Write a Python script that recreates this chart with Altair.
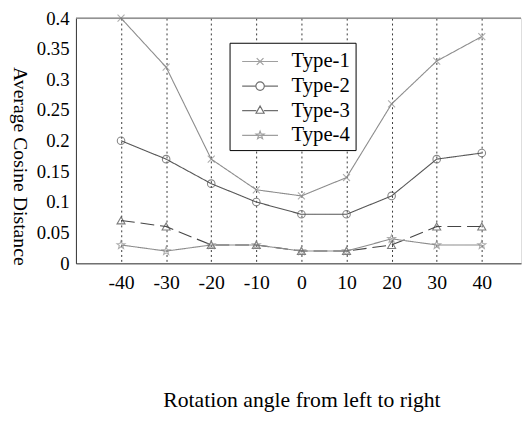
import math
import altair as alt
import pandas as pd

angles = [-40, -30, -20, -10, 0, 10, 20, 30, 40]
series_names = ["Type-1", "Type-2", "Type-3", "Type-4"]
type1 = [0.40, 0.32, 0.17, 0.12, 0.11, 0.14, 0.26, 0.33, 0.37]
type2 = [0.20, 0.17, 0.13, 0.10, 0.08, 0.08, 0.11, 0.17, 0.18]
type3 = [0.07, 0.06, 0.03, 0.03, 0.02, 0.02, 0.03, 0.06, 0.06]
type4 = [0.03, 0.02, 0.03, 0.03, 0.02, 0.02, 0.04, 0.03, 0.03]
x_ticks = [-40, -30, -20, -10, 0, 10, 20, 30, 40]
y_ticks = [0, 0.05, 0.1, 0.15, 0.2, 0.25, 0.3, 0.35, 0.4]
y_top = [0.4]

rows = []
for name, vals in zip(series_names, [type1, type2, type3, type4]):
    for a, v in zip(angles, vals):
        rows.append({"angle": a, "value": v, "series": name})
df = pd.DataFrame(rows)

colors = ["#8c8c8c", "#555555", "#454545", "#8c8c8c"]
FONT = "Liberation Serif"


def star_path(r_out, r_in, cx=0.0):
    pts = []
    for i in range(10):
        r = r_out if i % 2 == 0 else r_in
        ang = -math.pi / 2 + i * math.pi / 5
        pts.append((cx + r * math.cos(ang), r * math.sin(ang)))
    return "M" + "L".join(f"{x:.3f},{y:.3f}" for x, y in pts) + "Z"


# marker shapes for plotted points
x_path = "M-1,-1L1,1M-1,1L1,-1"
point_shapes = [x_path, "circle", "triangle-up", star_path(1.0, 0.42)]
point_sizes = [50, 75, 90, 80]

# legend symbols: short line with marker in the middle
L = 1.4
m = 0.33
leg_x = f"M-{L},0L{L},0M-{m*0.8},-{m*0.8}L{m*0.8},{m*0.8}M-{m*0.8},{m*0.8}L{m*0.8},-{m*0.8}"
leg_o = (f"M-{L},0L-{m},0M{m},0L{L},0M{m},0A{m},{m} 0 1,1 -{m},0A{m},{m} 0 1,1 {m},0")
leg_t = f"M-{L},0L-{m*0.9},0M{m*0.9},0L{L},0M0,-{m*1.1}L{m*0.95},{m*0.6}L-{m*0.95},{m*0.6}Z"
leg_s = f"M-{L},0L{L},0" + star_path(m, m * 0.42)
legend_shapes = [leg_x, leg_o, leg_t, leg_s]

x_scale = alt.Scale(domain=[-50, 48.7], nice=False, zero=False)
y_scale = alt.Scale(domain=[0, 0.4], nice=False, zero=True)
color_scale = alt.Scale(domain=series_names, range=colors)

x_axis = alt.Axis(
    values=x_ticks,
    labelExpr="'' + datum.value",
    labelOverlap=False,
    labelFlush=False,
    grid=True,
    gridDash=[2, 3],
    gridColor="#222222",
    gridOpacity=0.9,
    gridWidth=1,
    ticks=False,
    tickSize=0,
    labelPadding=10,
    labelFont=FONT,
    labelFontSize=20,
    labelColor="#000000",
    domainColor="#333333",
    title="Rotation angle from left to right",
    titleFont=FONT,
    titleFontSize=22,
    titleFontWeight="normal",
    titleColor="#000000",
    titleX=229,
    titleY=145,
    titleAlign="center",
    titleBaseline="alphabetic",
)
y_axis = alt.Axis(
    values=y_ticks,
    labelExpr="'' + datum.value",
    labelOverlap=False,
    labelFlush=False,
    grid=False,
    ticks=False,
    tickSize=0,
    labelPadding=7,
    labelFont=FONT,
    labelFontSize=19,
    labelColor="#000000",
    domainColor="#333333",
    title="Average Cosine Distance",
    titleFont=FONT,
    titleFontSize=20,
    titleFontWeight="normal",
    titleColor="#000000",
    titleAngle=90,
    titleX=-57,
    titleY=150,
    titleAlign="center",
    titleBaseline="middle",
)

x_enc = alt.X("angle:Q", scale=x_scale, axis=x_axis)
y_enc = alt.Y("value:Q", scale=y_scale, axis=y_axis)

lines = alt.Chart(df).mark_line(strokeWidth=1.1).encode(
    x=x_enc,
    y=y_enc,
    color=alt.Color("series:N", scale=color_scale, legend=None),
    strokeDash=alt.StrokeDash(
        "series:N",
        scale=alt.Scale(domain=series_names, range=[[1, 0], [1, 0], [14, 6], [1, 0]]),
        legend=None,
    ),
)

points = alt.Chart(df).mark_point(filled=False, strokeWidth=1.1).encode(
    x=x_enc,
    y=y_enc,
    color=alt.Color("series:N", scale=color_scale, legend=None),
    shape=alt.Shape("series:N", scale=alt.Scale(domain=series_names, range=point_shapes), legend=None),
    size=alt.Size("series:N", scale=alt.Scale(domain=series_names, range=point_sizes), legend=None),
)

top_frame = alt.Chart(pd.DataFrame({"value": y_top})).mark_rule(
    color="#777777", strokeWidth=1.2
).encode(y=y_enc)

legend_layer = alt.Chart(df).transform_filter("false").mark_point(filled=False, strokeWidth=1.2).encode(
    color=alt.Color(
        "series:N",
        scale=alt.Scale(domain=series_names, range=["#777777", "#333333", "#333333", "#777777"]),
        legend=alt.Legend(title=None, orient="none"),
    ),
    shape=alt.Shape(
        "series:N",
        scale=alt.Scale(domain=series_names, range=legend_shapes),
        legend=alt.Legend(
            title=None,
            orient="none",
            legendX=156,
            legendY=25,
            padding=5,
            fillColor="#ffffff",
            strokeColor="#000000",
            symbolSize=676,
            symbolOffset=12,
            symbolStrokeWidth=1.2,
            labelOffset=18,
            labelFont=FONT,
            labelFontSize=21,
            labelColor="#000000",
            rowPadding=1,
        ),
    ),
)

chart = (
    alt.layer(lines, points, top_frame, legend_layer)
    .resolve_scale(shape="independent", color="independent")
    .properties(
        width=452,
        height=249,
        autosize=alt.AutoSizeParams(type="none"),
        padding={"left": 69, "top": 7, "right": 2, "bottom": 170},
    )
    .configure_view(stroke=None)
    .configure(background="#ffffff")
)

chart.save("out.html", embed_options={"renderer": "svg", "actions": False})
